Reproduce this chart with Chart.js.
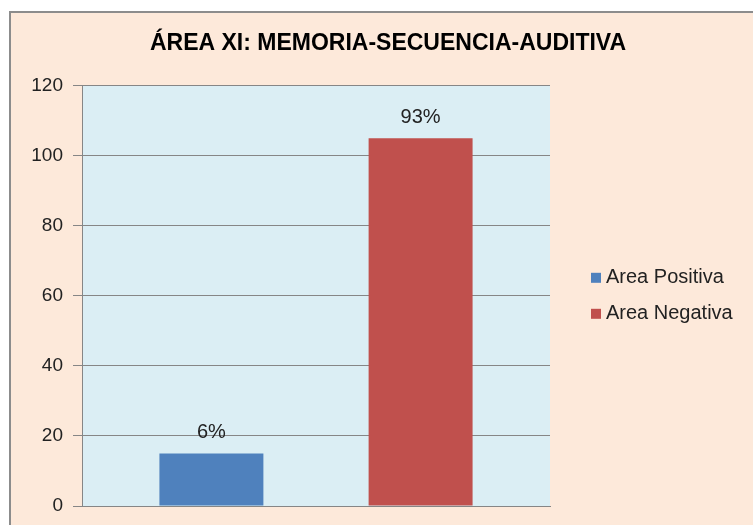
<!DOCTYPE html>
<html>
<head>
<meta charset="utf-8">
<script src="https://cdn.jsdelivr.net/npm/chart.js@4/dist/chart.umd.min.js"></script>
<style>
    html, body { margin: 0; padding: 0; background: #fff; }
    #wrap { width: 753px; height: 525px; position: relative; }
</style>
</head>
<body>
<div id="wrap"><canvas id="myCanvas"></canvas></div>
<script>
const categories = [""];
const seriesNames = ["Area Positiva", "Area Negativa"];
const positivaValues = [15];
const negativaValues = [105];
const percentLabels = ["6%", "93%"];
const seriesColors = ["#4F81BD", "#C0504D"];
const yTicks = { min: 0, max: 120, step: 20 };

const FONT = "'Liberation Sans', Arial, sans-serif";

// frame + plot background
const backgroundPlugin = {
    id: "background",
    beforeDraw(chart) {
        const { ctx, chartArea, width, height } = chart;
        ctx.save();
        ctx.fillStyle = "#ffffff";
        ctx.fillRect(0, 0, width, height);
        ctx.fillStyle = "#FDE9DA";
        ctx.fillRect(10, 12, width - 10, height - 12);
        ctx.strokeStyle = "#8C8C8C";
        ctx.lineWidth = 2;
        ctx.beginPath();
        ctx.moveTo(10, height + 2);
        ctx.lineTo(10, 12);
        ctx.lineTo(width + 2, 12);
        ctx.stroke();
        ctx.fillStyle = "#DBEEF4";
        ctx.fillRect(chartArea.left, chartArea.top, chartArea.right - chartArea.left, chartArea.bottom - chartArea.top);
        ctx.restore();
    },
};

// percent labels over each bar
const valueLabelPlugin = {
    id: "valueLabels",
    afterDatasetsDraw(chart) {
        const { ctx } = chart;
        ctx.save();
        ctx.font = "20px " + FONT;
        ctx.fillStyle = "#222";
        ctx.textAlign = "center";
        ctx.textBaseline = "middle";
        chart.data.datasets.forEach((ds, i) => {
            const bar = chart.getDatasetMeta(i).data[0];
            ctx.fillText(percentLabels[i], bar.x, bar.y - 21);
        });
        ctx.restore();
    },
};

// legend on the right, drawn from the datasets
const sideLegendPlugin = {
    id: "sideLegend",
    afterDraw(chart) {
        const { ctx, chartArea } = chart;
        const mid = (chartArea.top + chartArea.bottom) / 2;
        ctx.save();
        ctx.font = "20px " + FONT;
        ctx.textBaseline = "middle";
        chart.data.datasets.forEach((ds, i) => {
            const y = mid + (i - 0.5) * 36;
            ctx.fillStyle = ds.backgroundColor;
            ctx.fillRect(chartArea.right + 41, y - 5, 10, 10);
            ctx.fillStyle = "#222";
            ctx.fillText(ds.label, chartArea.right + 56, y);
        });
        ctx.restore();
    },
};

new Chart(document.getElementById("myCanvas"), {
    type: "bar",
    data: {
        labels: categories,
        datasets: [
            { label: seriesNames[0], data: positivaValues, backgroundColor: seriesColors[0] },
            { label: seriesNames[1], data: negativaValues, backgroundColor: seriesColors[1] },
        ],
    },
    options: {
        responsive: true,
        maintainAspectRatio: false,
        animation: false,
        layout: { padding: { left: 23, right: 0, top: 0, bottom: 19 } },
        datasets: { bar: { categoryPercentage: 0.894, barPercentage: 0.497 } },
        scales: {
            x: {
                grid: { display: false },
                ticks: { display: false },
                border: { display: true, color: "#868686", width: 1 },
                afterFit(scale) { scale.height = 0; },
            },
            y: {
                min: yTicks.min,
                max: yTicks.max,
                ticks: {
                    stepSize: yTicks.step,
                    padding: 10,
                    color: "#222",
                    font: { family: FONT, size: 19 },
                },
                grid: { color: "#868686", tickColor: "#868686", tickLength: 9 },
                border: { color: "#868686" },
                afterFit(scale) {
                    scale.width = 59;
                    scale.paddingTop = 0;
                    scale.paddingBottom = 0;
                },
            },
            side: {
                position: "right",
                grid: { display: false },
                ticks: { display: false },
                border: { display: false },
                afterFit(scale) { scale.width = 203; },
            },
        },
        plugins: {
            legend: { display: false },
            tooltip: { enabled: false },
            title: {
                display: true,
                text: "ÁREA XI: MEMORIA-SECUENCIA-AUDITIVA",
                color: "#000",
                font: { family: FONT, size: 23, weight: "bold" },
                padding: { top: 30, bottom: 28 },
            },
        },
    },
    plugins: [backgroundPlugin, valueLabelPlugin, sideLegendPlugin],
});
</script>
</body>
</html>
